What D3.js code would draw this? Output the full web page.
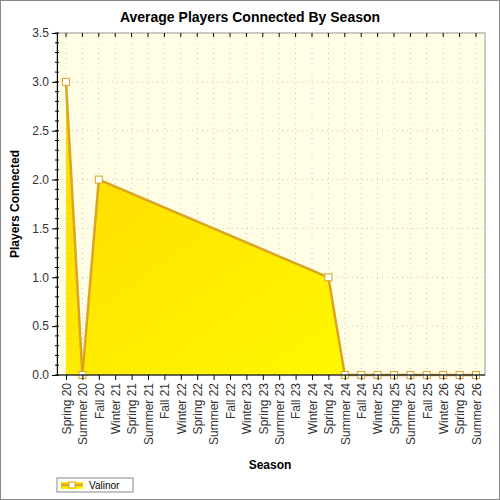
<!DOCTYPE html>
<html lang="en">
<head>
<meta charset="UTF-8">
<title>Average Players Connected By Season</title>
<script src="https://cdnjs.cloudflare.com/ajax/libs/d3/7.8.5/d3.min.js"></script>
<style>
    body { margin: 0; background: #fff; }
    text { font-family: Arial, "Liberation Sans", sans-serif; }
</style>
</head>
<body>
<svg id="chart" width="500" height="500"></svg>
<script>
    let seasons = ["Spring 20", "Summer 20", "Fall 20", "Winter 21", "Spring 21", "Summer 21", "Fall 21",
        "Winter 22", "Spring 22", "Summer 22", "Fall 22", "Winter 23", "Spring 23", "Summer 23", "Fall 23",
        "Winter 24", "Spring 24", "Summer 24", "Fall 24", "Winter 25", "Spring 25", "Summer 25", "Fall 25",
        "Winter 26", "Spring 26", "Summer 26"];
    let valinor = [3, 0, 2, null, null, null, null, null, null, null, null, null, null, null, null, null,
        1, 0, 0, 0, 0, 0, 0, 0, 0, 0];
    let yTicks = [0, 0.5, 1, 1.5, 2, 2.5, 3, 3.5];

    let svg = d3.select("#chart");
    svg.append("rect").attr("x", 0.5).attr("y", 0.5).attr("width", 499).attr("height", 499)
        .attr("fill", "#fff").attr("stroke", "#888");

    let pLeft = 57, pRight = 485, pTop = 33, pBottom = 375;

    let x = d3.scalePoint().domain(seasons).range([66, 476]);
    let y = d3.scaleLinear().domain([0, 3.5]).range([pBottom, pTop]);

    let defs = svg.append("defs");
    let grad = defs.append("linearGradient").attr("id", "fillGrad")
        .attr("x1", "0").attr("y1", "0").attr("x2", "1").attr("y2", "1");
    grad.append("stop").attr("offset", "0%").attr("stop-color", "#ffd700");
    grad.append("stop").attr("offset", "100%").attr("stop-color", "#ffff00");

    svg.append("rect").attr("x", pLeft).attr("y", pTop).attr("width", pRight - pLeft).attr("height", pBottom - pTop)
        .attr("fill", "#fffde4");

    // grid
    svg.append("g").selectAll("line").data(seasons).join("line")
        .attr("x1", d => x(d)).attr("x2", d => x(d)).attr("y1", pTop).attr("y2", pBottom)
        .attr("stroke", "#c8c8c8").attr("stroke-dasharray", "1,4");
    svg.append("g").selectAll("line").data(yTicks).join("line")
        .attr("x1", pLeft).attr("x2", pRight).attr("y1", d => y(d)).attr("y2", d => y(d))
        .attr("stroke", "#c8c8c8").attr("stroke-dasharray", "1,4");

    let pts = seasons.map((s, i) => ({s: s, v: valinor[i]})).filter(d => d.v !== null);

    svg.append("path").datum(pts)
        .attr("d", d3.area().x(d => x(d.s)).y0(y(0)).y1(d => y(d.v)))
        .attr("fill", "url(#fillGrad)");
    svg.append("path").datum(pts)
        .attr("d", d3.line().x(d => x(d.s)).y(d => y(d.v)))
        .attr("fill", "none").attr("stroke", "#daa520").attr("stroke-width", 2.5);
    svg.append("g").selectAll("rect").data(pts).join("rect")
        .attr("x", d => x(d.s) - 3.5).attr("y", d => y(d.v) - 3.5)
        .attr("width", 7).attr("height", 7)
        .attr("fill", "#fff").attr("stroke", "#daa520");

    // frame
    svg.append("rect").attr("x", pLeft).attr("y", pTop).attr("width", pRight - pLeft).attr("height", pBottom - pTop)
        .attr("fill", "none").attr("stroke", "#999");

    // y axis
    let yAxis = svg.append("g").attr("transform", `translate(${pLeft},0)`)
        .call(d3.axisLeft(y).tickValues(yTicks).tickFormat(d3.format(".1f")).tickSize(5));
    yAxis.select(".domain").attr("stroke", "#000");
    yAxis.selectAll("text").attr("font-size", 12).attr("fill", "#333");
    svg.append("g").selectAll("line").data(d3.range(0, 36).map(d => d / 10)).join("line")
        .attr("x1", pLeft - 2).attr("x2", pLeft + 2).attr("y1", d => y(d)).attr("y2", d => y(d))
        .attr("stroke", "#000");

    // x axis
    let xAxis = svg.append("g").attr("transform", `translate(0,${pBottom})`)
        .call(d3.axisBottom(x).tickSize(5).tickSizeOuter(0));
    xAxis.select(".domain").attr("stroke", "#000").attr("d", `M${pLeft},0H${pRight}`);
    xAxis.selectAll("text").attr("font-size", 12).attr("fill", "#333")
        .attr("transform", "rotate(-90)").attr("text-anchor", "end")
        .attr("x", -8).attr("y", 0).attr("dy", "0.35em");
    svg.append("g").selectAll("line").data(seasons).join("line")
        .attr("x1", d => x(d)).attr("x2", d => x(d)).attr("y1", pTop).attr("y2", pTop + 4)
        .attr("stroke", "#000");

    // titles
    svg.append("text").attr("x", 250).attr("y", 22).attr("text-anchor", "middle")
        .attr("font-size", 14).attr("font-weight", "bold").text("Average Players Connected By Season");
    svg.append("text").attr("x", 270).attr("y", 469).attr("text-anchor", "middle")
        .attr("font-size", 12).attr("font-weight", "bold").text("Season");
    svg.append("text").attr("transform", `translate(19,${(pTop + pBottom) / 2}) rotate(-90)`)
        .attr("text-anchor", "middle").attr("font-size", 12).attr("font-weight", "bold")
        .text("Players Connected");

    // legend
    let lg = svg.append("g").attr("transform", "translate(57,478)");
    lg.append("rect").attr("width", 76).attr("height", 14).attr("fill", "#fff").attr("stroke", "#888");
    lg.append("rect").attr("x", 4).attr("y", 4).attr("width", 22).attr("height", 7).attr("fill", "url(#fillGrad)");
    lg.append("line").attr("x1", 4).attr("x2", 26).attr("y1", 7).attr("y2", 7)
        .attr("stroke", "#daa520").attr("stroke-width", 2.5);
    lg.append("rect").attr("x", 12).attr("y", 4).attr("width", 6).attr("height", 6)
        .attr("fill", "#fff").attr("stroke", "#daa520");
    lg.append("text").attr("x", 32).attr("y", 11).attr("font-size", 10).text("Valinor");
</script>
</body>
</html>
